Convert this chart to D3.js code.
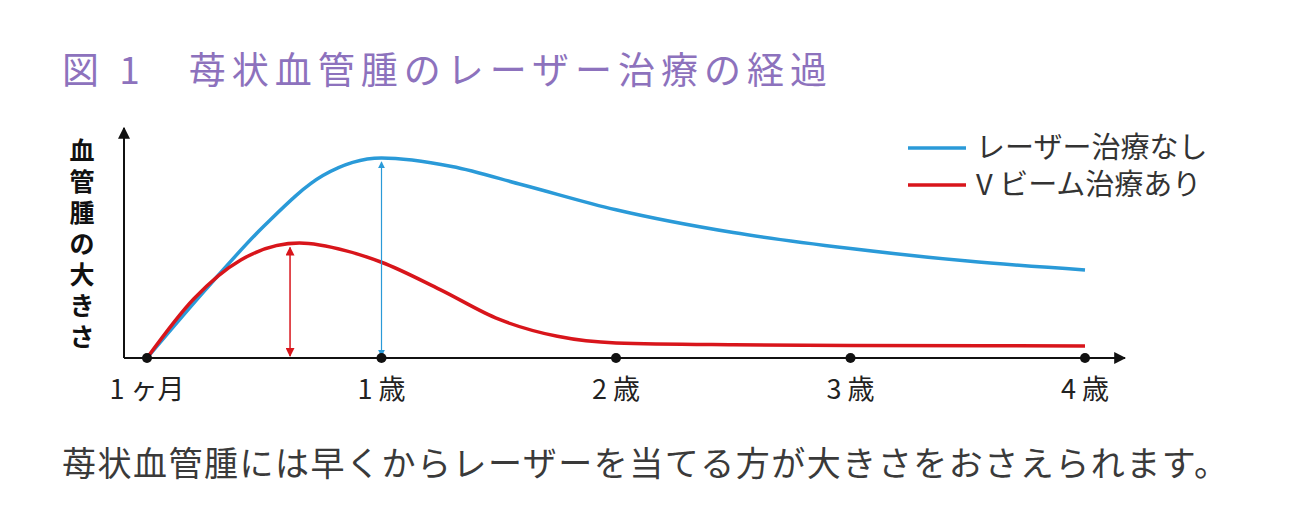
<!DOCTYPE html>
<html><head><meta charset="utf-8">
<script src="https://cdn.jsdelivr.net/npm/d3@7"></script>
<style>body{margin:0;background:#fff;font-family:"Noto Sans CJK JP","Noto Sans",sans-serif;}</style>
</head><body><svg id="c" width="1302" height="516"></svg>
<script>
// x is the tick position (0 = 1ヶ月, 1..4 = 歳), y is relative size
var tickLabels = ["1 ヶ月", "1 歳", "2 歳", "3 歳", "4 歳"];
var laserNoneX = [0, 0.25, 0.5, 0.75, 1, 1.3, 1.6, 2, 2.5, 3, 3.5, 4];
var laserNoneY = [0, 30, 58, 80, 87.7, 84, 76, 65, 55, 48, 42.5, 38.6];
var vbeamX = [0, 0.2, 0.4, 0.65, 0.85, 1, 1.25, 1.5, 1.75, 2, 2.5, 3, 4];
var vbeamY = [0, 26, 43, 50.4, 47, 42, 30, 17, 9.5, 6.6, 5.8, 5.5, 5.3];
var seriesNames = ["レーザー治療なし", "V ビーム治療あり"];
var colors = ["#2a9ad8", "#d8151b"];

var svg = d3.select("#c");
var x = d3.scaleLinear().domain([0, 4]).range([147, 1085]);
var y = d3.scaleLinear().domain([0, 100]).range([358, 130]);

var defs = svg.append("defs");
function mk(id, col) {
  defs.append("marker").attr("id", id).attr("viewBox", "0 0 10 10").attr("refX", 9).attr("refY", 5)
    .attr("markerWidth", 6).attr("markerHeight", 6).attr("orient", "auto-start-reverse")
    .append("path").attr("d", "M0,0L10,5L0,10z").attr("fill", col);
}
mk("ab", "#111"); mk("ar", colors[1]); mk("abl", colors[0]);

svg.append("text").attr("x", 62).attr("y", 84).attr("fill", "#8d72bd").attr("font-size", 37)
  .attr("letter-spacing", 6).text("図 1　苺状血管腫のレーザー治療の経過");

// axes
svg.append("line").attr("x1", 124).attr("y1", y(0)).attr("x2", 1125).attr("y2", y(0))
  .attr("stroke", "#111").attr("stroke-width", 2).attr("marker-end", "url(#ab)");
svg.append("line").attr("x1", 124).attr("y1", y(0)).attr("x2", 124).attr("y2", 128)
  .attr("stroke", "#111").attr("stroke-width", 2).attr("marker-end", "url(#ab)");

var yl = "血管腫の大きさ".split("");
svg.append("g").selectAll("text").data(yl).enter().append("text")
  .attr("x", 82).attr("y", function(d, i) { return 160 + i * 31; })
  .attr("text-anchor", "middle").attr("font-size", 25).attr("font-weight", "bold").attr("fill", "#111")
  .text(function(d) { return d; });

var line = d3.line().curve(d3.curveMonotoneX).x(function(d) { return x(d[0]); }).y(function(d) { return y(d[1]); });
var blue = d3.zip(laserNoneX, laserNoneY), red = d3.zip(vbeamX, vbeamY);
svg.append("path").attr("d", line(blue)).attr("fill", "none").attr("stroke", colors[0]).attr("stroke-width", 3.5);
svg.append("path").attr("d", line(red)).attr("fill", "none").attr("stroke", colors[1]).attr("stroke-width", 3.5);

// arrows
svg.append("line").attr("x1", x(0.61)).attr("x2", x(0.61)).attr("y1", y(48.5)).attr("y2", y(0) - 2)
  .attr("stroke", colors[1]).attr("stroke-width", 1.5)
  .attr("marker-start", "url(#ar)").attr("marker-end", "url(#ar)");
svg.append("line").attr("x1", x(1)).attr("x2", x(1)).attr("y1", y(86)).attr("y2", y(0) - 2)
  .attr("stroke", colors[0]).attr("stroke-width", 1.2)
  .attr("marker-start", "url(#abl)").attr("marker-end", "url(#abl)");

svg.append("g").selectAll("circle").data(tickLabels).enter().append("circle")
  .attr("cx", function(d, i) { return x(i); }).attr("cy", y(0)).attr("r", 5).attr("fill", "#111");
svg.append("g").selectAll("text").data(tickLabels).enter().append("text")
  .attr("x", function(d, i) { return x(i); }).attr("y", 399).attr("text-anchor", "middle")
  .attr("font-size", 27).attr("fill", "#222").text(function(d) { return d; });

// legend
seriesNames.forEach(function(n, i) {
  var ly = 148 + i * 37;
  svg.append("line").attr("x1", 908).attr("x2", 966).attr("y1", ly).attr("y2", ly)
    .attr("stroke", colors[i]).attr("stroke-width", 3.5);
  svg.append("text").attr("x", 976).attr("y", ly + 10).attr("font-size", 29).attr("fill", "#333").text(n);
});

svg.append("text").attr("x", 62).attr("y", 476).attr("font-size", 34).attr("letter-spacing", 1.5).attr("fill", "#3a3a3a")
  .text("苺状血管腫には早くからレーザーを当てる方が大きさをおさえられます。");
</script></body></html>
